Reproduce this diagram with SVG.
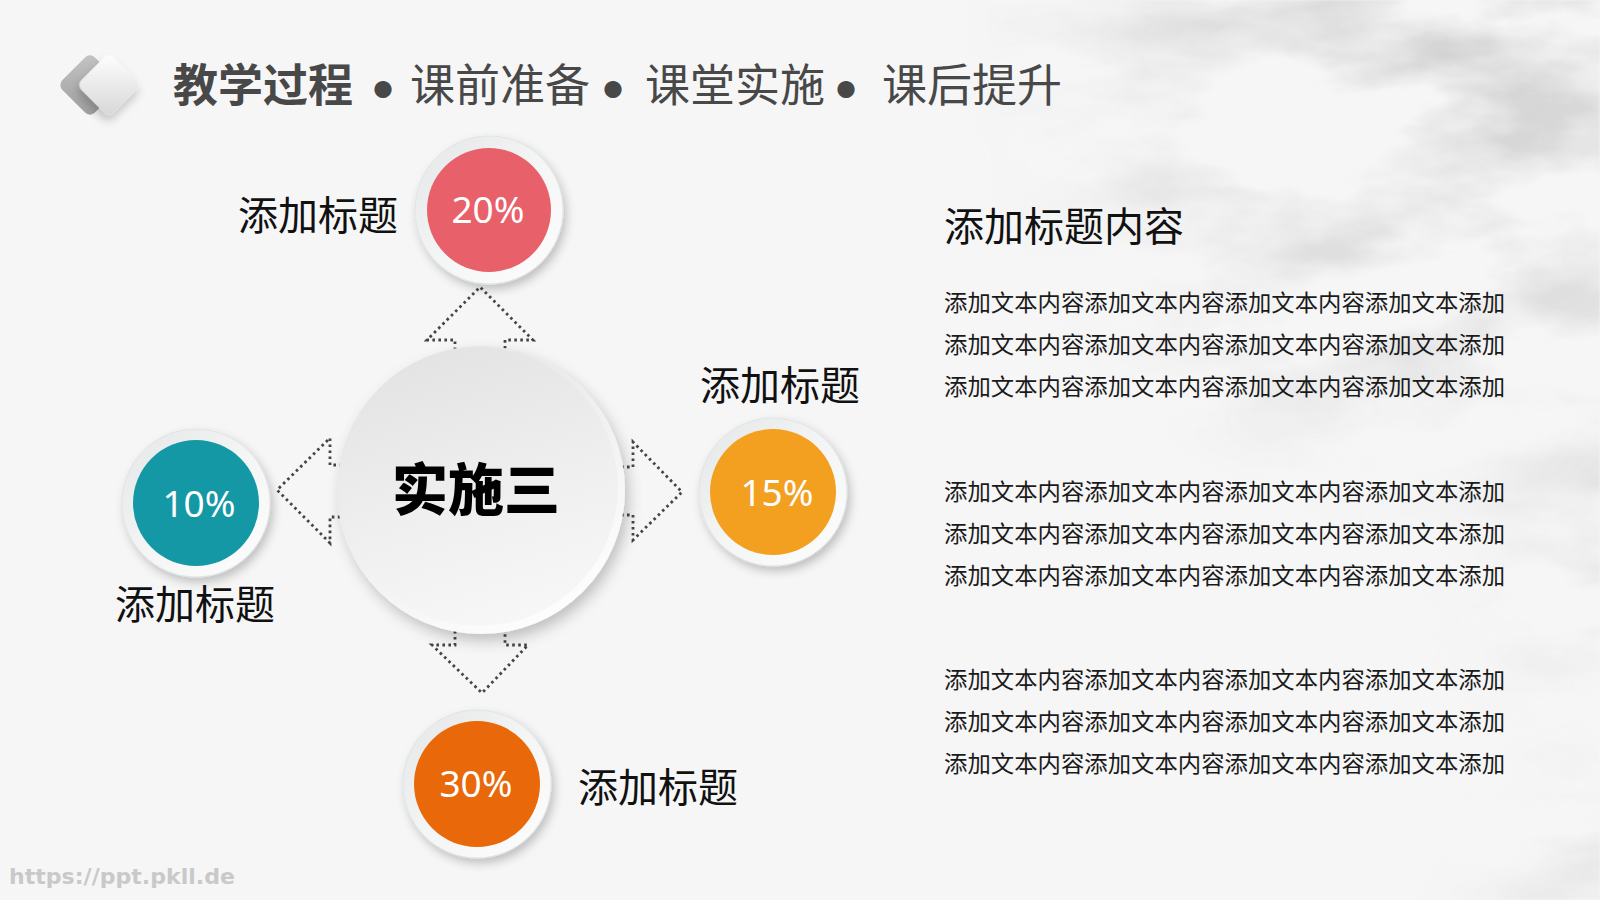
<svg xmlns="http://www.w3.org/2000/svg" width="1600" height="900" viewBox="0 0 1600 900">
<defs>
<style>
.cjk{font-family:"Noto Sans CJK SC","Noto Sans",sans-serif;}
.title{font-size:45px;fill:#484848;}
.bullet{font-size:19px;fill:#484848;text-anchor:middle;}
.label{font-size:40px;fill:#111;}
.para{font-size:23px;fill:#1a1a1a;}
.pct{font-family:"Noto Sans","Open Sans",sans-serif;font-size:37px;fill:#fff;text-anchor:middle;}
.conn{fill:none;stroke:#444;stroke-width:2.8;stroke-dasharray:2.6 3.4;stroke-linejoin:miter;}
</style>
<filter id="clouds" x="0" y="0" width="100%" height="100%">
<feTurbulence type="fractalNoise" baseFrequency="0.005 0.012" numOctaves="5" seed="11"/>
<feColorMatrix type="matrix" values="0 0 0 0 0.6  0 0 0 0 0.6  0 0 0 0 0.6  3.0 0 0 0 -1.25"/>
<feGaussianBlur stdDeviation="1.2"/>
</filter>
<radialGradient id="mk1" cx="1480" cy="30" r="520" gradientUnits="userSpaceOnUse">
<stop offset="0" stop-color="#fff"/><stop offset="0.55" stop-color="#999"/><stop offset="1" stop-color="#000"/>
</radialGradient>
<radialGradient id="mk2" cx="1640" cy="560" r="260" gradientUnits="userSpaceOnUse">
<stop offset="0" stop-color="#fff"/><stop offset="1" stop-color="#000" stop-opacity="0"/>
</radialGradient>
<radialGradient id="mk3" cx="1600" cy="880" r="220" gradientUnits="userSpaceOnUse">
<stop offset="0" stop-color="#aaa"/><stop offset="1" stop-color="#000" stop-opacity="0"/>
</radialGradient>
<mask id="cloudMask">
<rect width="1600" height="900" fill="url(#mk1)"/>
<rect width="1600" height="900" fill="url(#mk2)"/>
<rect width="1600" height="900" fill="url(#mk3)"/>
</mask>
<filter id="sh" x="-30%" y="-30%" width="160%" height="160%">
<feDropShadow dx="3" dy="5" stdDeviation="5" flood-color="#000" flood-opacity="0.22"/>
</filter>
<filter id="shBig" x="-20%" y="-20%" width="140%" height="140%">
<feDropShadow dx="4" dy="7" stdDeviation="7" flood-color="#000" flood-opacity="0.22"/>
</filter>
<linearGradient id="rim" x1="0" y1="0" x2="1" y2="1">
<stop offset="0" stop-color="#e4e6e7"/><stop offset="0.5" stop-color="#f4f5f5"/><stop offset="1" stop-color="#fdfdfd"/>
</linearGradient>
<linearGradient id="bigRim" x1="0.2" y1="0" x2="0.8" y2="1">
<stop offset="0" stop-color="#e2e2e2"/><stop offset="1" stop-color="#ffffff"/>
</linearGradient>
<linearGradient id="bigFace" x1="0.3" y1="0" x2="0.6" y2="1">
<stop offset="0" stop-color="#e3e3e4"/><stop offset="0.55" stop-color="#efeff0"/><stop offset="1" stop-color="#f7f7f7"/>
</linearGradient>
<linearGradient id="dBack" x1="0" y1="0" x2="1" y2="1">
<stop offset="0" stop-color="#c4c4c4"/><stop offset="1" stop-color="#9e9e9e"/>
</linearGradient>
<linearGradient id="dFront" x1="0" y1="0" x2="1" y2="1">
<stop offset="0" stop-color="#ffffff"/><stop offset="1" stop-color="#d6d6d6"/>
</linearGradient>
</defs>

<!-- background -->
<rect width="1600" height="900" fill="#f6f6f7"/>
<rect width="1600" height="900" fill="#7a7a7a" filter="url(#clouds)" mask="url(#cloudMask)" opacity="0.85"/>

<!-- title icon -->
<g id="title-icon">
<rect x="67" y="62" width="46" height="46" rx="7" transform="rotate(45 90 85)" fill="url(#dBack)"/>
<rect x="86" y="62" width="46" height="46" rx="7" transform="rotate(45 109 85)" fill="url(#dFront)" filter="url(#sh)"/>
</g>

<!-- title -->
<g id="title">
<text class="cjk title" x="173" y="102" font-weight="bold">教学过程</text>
<text class="cjk bullet" x="383" y="97">●</text>
<text class="cjk title" x="410" y="102">课前准备</text>
<text class="cjk bullet" x="613" y="97">●</text>
<text class="cjk title" x="645" y="102">课堂实施</text>
<text class="cjk bullet" x="846" y="97">●</text>
<text class="cjk title" x="882" y="102">课后提升</text>
</g>

<!-- connectors -->
<g id="connectors">
<path class="conn" d="M455,356 L455,340 L427,340 L480,287 L533,340 L505,340 L505,356"/>
<path class="conn" d="M342,465 L330,465 L330,438 L277,490 L330,543 L330,517 L342,517"/>
<path class="conn" d="M621,467 L633,467 L633,442 L682,492 L633,540 L633,515 L621,515"/>
<path class="conn" d="M455,625 L455,645 L432,645 L482,693 L528,645 L505,645 L505,625"/>
</g>

<!-- center node -->
<g id="node-center">
<circle cx="481" cy="490" r="144" fill="url(#bigRim)" filter="url(#shBig)"/>
<circle cx="479" cy="487" r="139" fill="url(#bigFace)"/>
<text class="cjk" x="476" y="510" font-size="56" font-weight="900" fill="#000" text-anchor="middle">实施三</text>
</g>

<!-- 20% node -->
<g id="node-20">
<circle cx="489" cy="210" r="74" fill="url(#rim)" stroke="#e0e2e3" stroke-width="1" filter="url(#sh)"/>
<circle cx="489" cy="210" r="62" fill="#e8606a"/>
<text class="pct" x="488" y="223">20%</text>
<text class="cjk label" x="398" y="230" text-anchor="end">添加标题</text>
</g>

<!-- 10% node -->
<g id="node-10">
<circle cx="196" cy="503" r="74" fill="url(#rim)" stroke="#e0e2e3" stroke-width="1" filter="url(#sh)"/>
<circle cx="196" cy="503" r="63" fill="#1598a6"/>
<text class="pct" x="199" y="517">10%</text>
<text class="cjk label" x="115" y="619">添加标题</text>
</g>

<!-- 15% node -->
<g id="node-15">
<circle cx="773" cy="492" r="74" fill="url(#rim)" stroke="#e0e2e3" stroke-width="1" filter="url(#sh)"/>
<circle cx="773" cy="492" r="63" fill="#f3a020"/>
<text class="pct" x="777" y="506">15%</text>
<text class="cjk label" x="700" y="400">添加标题</text>
</g>

<!-- 30% node -->
<g id="node-30">
<circle cx="477" cy="784" r="74" fill="url(#rim)" stroke="#e0e2e3" stroke-width="1" filter="url(#sh)"/>
<circle cx="477" cy="784" r="63" fill="#e8680a"/>
<text class="pct" x="476" y="797">30%</text>
<text class="cjk label" x="578" y="802">添加标题</text>
</g>

<!-- right text block -->
<g id="content">
<text class="cjk label" x="944" y="241">添加标题内容</text>
<text class="cjk para" x="944" y="311" textLength="561" lengthAdjust="spacingAndGlyphs">添加文本内容添加文本内容添加文本内容添加文本添加</text>
<text class="cjk para" x="944" y="353" textLength="561" lengthAdjust="spacingAndGlyphs">添加文本内容添加文本内容添加文本内容添加文本添加</text>
<text class="cjk para" x="944" y="395" textLength="561" lengthAdjust="spacingAndGlyphs">添加文本内容添加文本内容添加文本内容添加文本添加</text>
<text class="cjk para" x="944" y="500" textLength="561" lengthAdjust="spacingAndGlyphs">添加文本内容添加文本内容添加文本内容添加文本添加</text>
<text class="cjk para" x="944" y="542" textLength="561" lengthAdjust="spacingAndGlyphs">添加文本内容添加文本内容添加文本内容添加文本添加</text>
<text class="cjk para" x="944" y="584" textLength="561" lengthAdjust="spacingAndGlyphs">添加文本内容添加文本内容添加文本内容添加文本添加</text>
<text class="cjk para" x="944" y="688" textLength="561" lengthAdjust="spacingAndGlyphs">添加文本内容添加文本内容添加文本内容添加文本添加</text>
<text class="cjk para" x="944" y="730" textLength="561" lengthAdjust="spacingAndGlyphs">添加文本内容添加文本内容添加文本内容添加文本添加</text>
<text class="cjk para" x="944" y="772" textLength="561" lengthAdjust="spacingAndGlyphs">添加文本内容添加文本内容添加文本内容添加文本添加</text>
</g>

<!-- watermark -->
<text x="9" y="884" font-family="'DejaVu Sans',sans-serif" font-weight="bold" font-size="21" fill="#c9c9c9" textLength="226" lengthAdjust="spacingAndGlyphs">https://ppt.pkll.de</text>
</svg>
